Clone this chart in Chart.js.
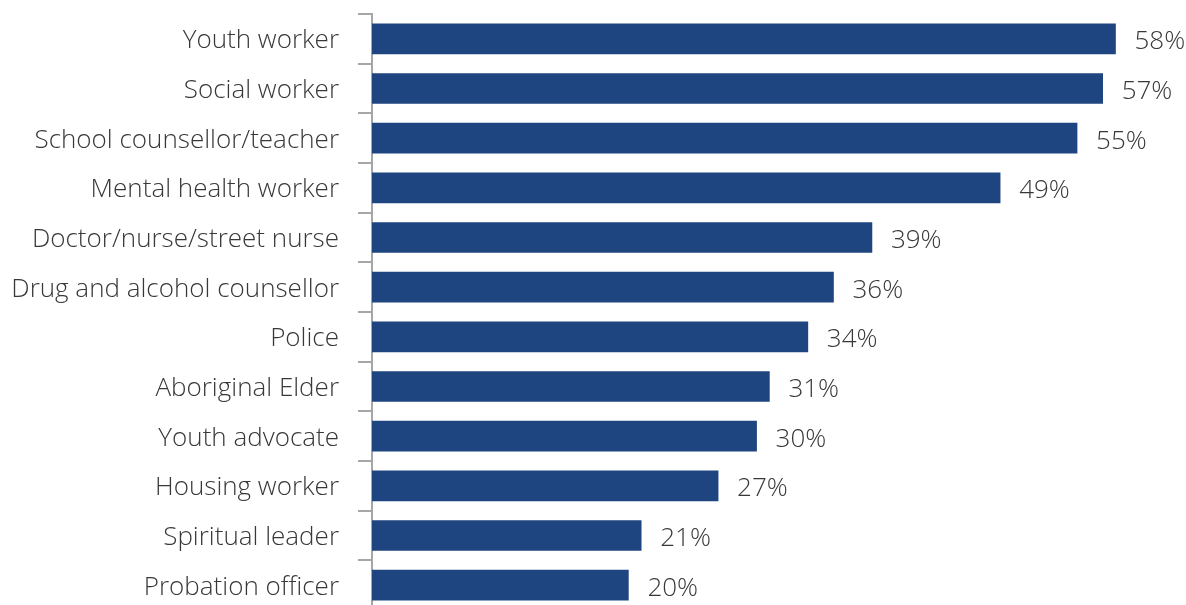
<!DOCTYPE html>
<html>
<head>
<meta charset="utf-8">
<script src="https://cdn.jsdelivr.net/npm/chart.js@4.4.1/dist/chart.umd.min.js"></script>
<style>
  html, body { margin: 0; padding: 0; background: #fff; overflow: hidden; }
  canvas { display: block; }
</style>
</head>
<body>
<canvas id="roleChart" width="1186" height="625"></canvas>
<script>
const roles = [
  'Youth worker',
  'Social worker',
  'School counsellor/teacher',
  'Mental health worker',
  'Doctor/nurse/street nurse',
  'Drug and alcohol counsellor',
  'Police',
  'Aboriginal Elder',
  'Youth advocate',
  'Housing worker',
  'Spiritual leader',
  'Probation officer'
];

const percents = [58, 57, 55, 49, 39, 36, 34, 31, 30, 27, 21, 20];

const textColor = '#383838';
const labelFont = { family: '"Open Sans", "Liberation Sans", sans-serif', size: 26, weight: '300' };

// value labels at the end of each bar
const valueLabels = {
  id: 'valueLabels',
  afterDatasetsDraw(chart) {
    const c = chart.ctx;
    const meta = chart.getDatasetMeta(0);
    c.save();
    c.font = `${labelFont.weight} ${labelFont.size}px ${labelFont.family}`;
    c.fillStyle = textColor;
    c.textAlign = 'left';
    c.textBaseline = 'middle';
    meta.data.forEach((bar, i) => {
      c.fillText(percents[i] + '%', bar.x + 19, bar.y + 3);
    });
    c.restore();
  }
};

const ctx = document.getElementById('roleChart').getContext('2d');

new Chart(ctx, {
  type: 'bar',
  data: {
    labels: roles,
    datasets: [{
      data: percents,
      backgroundColor: '#1F4580',
      borderWidth: 0,
      barThickness: 30
    }]
  },
  options: {
    indexAxis: 'y',
    responsive: false,
    animation: false,
    layout: { padding: { top: 14, bottom: 15, left: 0, right: 0 } },
    plugins: {
      legend: { display: false },
      tooltip: { enabled: false }
    },
    scales: {
      x: {
        display: false,
        min: 0,
        max: 63.5
      },
      y: {
        afterFit(scale) {
          scale.width = 372;
          scale.paddingTop = 0;
          scale.paddingBottom = 0;
        },
        border: { display: true, color: '#A6A6A6', width: 2 },
        grid: {
          offset: true,
          drawOnChartArea: false,
          drawTicks: true,
          tickLength: 14,
          color: '#A6A6A6',
          lineWidth: 2
        },
        ticks: {
          color: textColor,
          font: labelFont,
          padding: 19,
          labelOffset: 2
        }
      }
    }
  },
  plugins: [valueLabels]
});
</script>
</body>
</html>
